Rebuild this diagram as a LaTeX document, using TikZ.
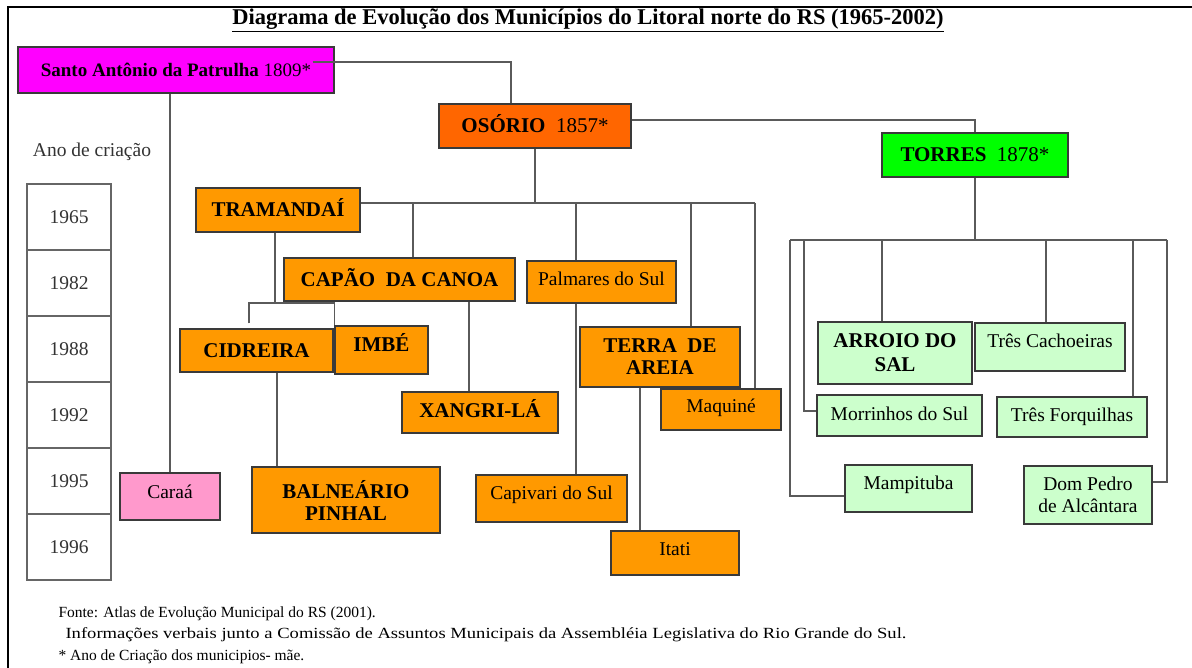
\documentclass[tikz,border=0pt]{standalone}
\usepackage{fontspec}
\setmainfont{Liberation Serif}
\definecolor{magentaB}{HTML}{FF00FF}
\definecolor{osorioC}{HTML}{FF6600}
\definecolor{orangeC}{HTML}{FF9900}
\definecolor{greenC}{HTML}{00FF00}
\definecolor{lgreenC}{HTML}{CCFFCC}
\definecolor{pinkC}{HTML}{FF99CC}
\definecolor{lineC}{HTML}{5A5A5A}
\definecolor{edgeC}{HTML}{3A3A3A}
\newcommand\fsz[2]{\fontsize{#1}{#2}\selectfont}
\begin{document}
\begin{tikzpicture}[x=1pt,y=-1pt,
  base/.style={draw=edgeC, line width=1.3pt, inner sep=0pt, align=center},
  boldbox/.style={base, font=\fsz{21}{22}\bfseries},
  regbox/.style={base, font=\fsz{19.5}{22}},
  one/.style={text height=13.5pt, text depth=0pt},
  up/.style={text depth=#1},
  orangebox/.style={fill=orangeC},
  greenbox/.style={fill=lgreenC},
  sz/.style 2 args={minimum width=#1pt, minimum height=#2pt},
  conn/.style={draw=lineC, line width=1.4pt},
  yearbox/.style={draw=black!60, line width=1.3pt, minimum width=84pt, minimum height=66pt, inner sep=0pt, font=\fsz{19.5}{22}, text=black!80},
  foot/.style={anchor=base west, font=\fsz{15.5}{18}}
]
\useasboundingbox (0,0) rectangle (1192,668);
\fill[white] (0,0) rectangle (1192,668);
\draw[line width=2pt] (8,7) rectangle (1210,690);

% title
\node[font=\fsz{22.5}{25}\bfseries] (title) at (588,20) {\underline{Diagrama de Evolução dos Municípios do Litoral norte do RS (1965-2002)}};

% year column
\node[font=\fsz{19.5}{22}, text=black!80] (anolabel) at (92,152) {Ano de criação};
\node[yearbox] (y1965) at (69,217) {1965};
\node[yearbox] (y1982) at (69,283) {1982};
\node[yearbox] (y1988) at (69,349) {1988};
\node[yearbox] (y1992) at (69,415) {1992};
\node[yearbox] (y1995) at (69,481) {1995};
\node[yearbox] (y1996) at (69,547) {1996};

% main boxes
\node[regbox, fill=magentaB, sz={316}{46}, font=\fsz{19}{22}] (santo) at (176,70) {\textbf{Santo Antônio da Patrulha} 1809*};
\node[boldbox, one, fill=osorioC, sz={192}{44}] (osorio) at (535,126) {OSÓRIO\ \ \mdseries 1857*};
\node[boldbox, one, fill=greenC, sz={186}{44}] (torres) at (975,155) {TORRES\ \ \mdseries 1878*};
\node[regbox, one, up=9pt, fill=pinkC, sz={100}{47}] (caraa) at (170,496.5) {Caraá};

% Osorio children
\node[boldbox, one, orangebox, sz={164}{44}] (tramandai) at (278,210) {TRAMANDAÍ};
\node[boldbox, one, orangebox, sz={231}{43}] (capao) at (399.5,279.5) {CAPÃO\ \ DA CANOA};
\node[regbox, one, up=6pt, orangebox, sz={149}{42}] (palmares) at (601.5,282) {Palmares do Sul};
\node[boldbox, orangebox, sz={160}{60}] (terra) at (660,357) {TERRA\ \ DE\\AREIA};
\node[regbox, one, up=7pt, orangebox, sz={120}{41}] (maquine) at (721,409.5) {Maquiné};
\node[boldbox, one, orangebox, sz={153}{43}] (cidreira) at (256.5,350.5) {CIDREIRA};
\node[boldbox, one, up=10pt, orangebox, sz={93}{48}] (imbe) at (381.5,350) {IMBÉ};
\node[boldbox, one, up=4pt, orangebox, sz={156}{41}] (xangri) at (480,412.5) {XANGRI-LÁ};
\node[boldbox, orangebox, sz={188}{66}] (balneario) at (346,500) {BALNEÁRIO\\PINHAL};
\node[regbox, one, up=11pt, orangebox, sz={151}{47}] (capivari) at (551.5,498.5) {Capivari do Sul};
\node[regbox, one, up=8pt, orangebox, sz={128}{44}] (itati) at (675,553) {Itati};

% Torres children
\node[boldbox, greenbox, sz={154}{62}, font=\fsz{21}{24}\bfseries] (arroio) at (895,353) {ARROIO DO\\SAL};
\node[regbox, one, up=12pt, greenbox, sz={150}{48}] (cachoeiras) at (1050,347) {Três Cachoeiras};
\node[regbox, one, up=3pt, greenbox, sz={165}{41}] (morrinhos) at (899.5,415.5) {Morrinhos do Sul};
\node[regbox, one, up=4pt, greenbox, sz={150}{40}] (forquilhas) at (1072,417) {Três Forquilhas};
\node[regbox, one, up=11pt, greenbox, sz={127}{47}] (mampituba) at (908.5,488.5) {Mampituba};
\node[regbox, greenbox, sz={128}{58}] (dompedro) at (1088,495) {Dom Pedro\\de Alcântara};

% connectors
\coordinate (obus) at (535,203);
\coordinate (obusR) at (755,203);
\coordinate (tj) at (275,303);
\coordinate (tbL) at (790,240);
\coordinate (tbR) at (1167,240);

\draw[conn] ([xshift=-22pt,yshift=8pt]santo.east) -| ([xshift=-24pt]osorio.north);
\draw[conn] (santo.south -| caraa.north) -- (caraa.north);
\draw[conn] ([yshift=6pt]osorio.east) -| (torres.north);

\draw[conn] (osorio.south) -- (obus);
\draw[conn] ([yshift=7pt]tramandai.east) -- (obusR);
\draw[conn] ([xshift=13.5pt]capao.north) -- ([xshift=13.5pt]capao.north |- obus);
\draw[conn] ([xshift=-25.5pt]palmares.north) -- ([xshift=-25.5pt]palmares.north |- obus);
\draw[conn] ([xshift=31pt]terra.north) -- ([xshift=31pt]terra.north |- obus);
\draw[conn] (obusR) -- (obusR |- maquine.north);

\draw[conn] ([xshift=-3pt]tramandai.south) -- ([xshift=-3pt]tramandai.south |- tj);
\draw[conn] ([xshift=-7.5pt,yshift=5pt]cidreira.north) |- (tj) -| (imbe.north west);
\draw[conn] ([xshift=-11pt]xangri.north) -- ([xshift=-11pt]xangri.north |- capao.south);
\draw[conn] ([xshift=-69pt]balneario.north) -- ([xshift=-69pt]balneario.north |- cidreira.south);
\draw[conn] ([xshift=24.5pt]capivari.north) -- ([xshift=24.5pt]capivari.north |- palmares.south);
\draw[conn] ([xshift=-35pt]itati.north) -- ([xshift=-35pt]itati.north |- terra.south);

\draw[conn] (torres.south) -- (torres.south |- tbL);
\draw[conn] (tbL) -- (tbR);
\draw[conn] (tbL) |- ([yshift=-7.5pt]mampituba.west);
\draw[conn] ([xshift=14pt]tbL) |- ([yshift=4.5pt]morrinhos.west);
\draw[conn] ([xshift=-13pt]arroio.north) -- ([xshift=-13pt]arroio.north |- tbL);
\draw[conn] ([xshift=-4pt]cachoeiras.north) -- ([xshift=-4pt]cachoeiras.north |- tbL);
\draw[conn] ([xshift=61pt]forquilhas.north) -- ([xshift=61pt]forquilhas.north |- tbL);
\draw[conn] (tbR) |- ([yshift=13pt]dompedro.east);

% footer
\node[foot] (fonte) at (55,617) {Fonte: Atlas de Evolução Municipal do RS (2001).};
\node[foot] (info) at (62,638) {\scalebox{1.2}[1]{Informações verbais junto a Comissão de Assuntos Municipais da Assembléia Legislativa do Rio Grande do Sul.}};
\node[foot] (nota) at (55,660) {* Ano de Criação dos municipios- mãe.};
\end{tikzpicture}
\end{document}
